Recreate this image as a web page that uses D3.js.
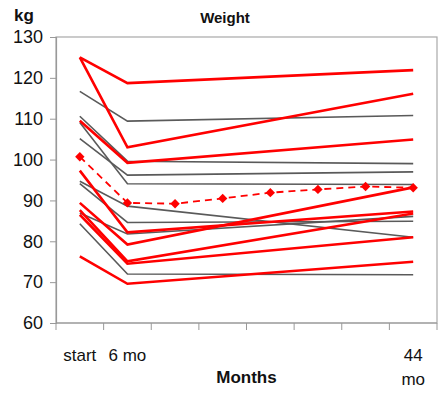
<!DOCTYPE html>
<html><head><meta charset="utf-8">
<script src="https://cdn.jsdelivr.net/npm/d3@7"></script>
<style>
html,body{margin:0;padding:0;background:#fff;}
text{font-family:"Liberation Sans",Arial,sans-serif;fill:#111;}
</style></head>
<body><svg id="c" width="447" height="396"></svg>
<script>
const categories = ["start","6 mo","","","","","","44 mo"];
const individualIdx = [0,1,7];
const redSeries = [
  [125.0,118.7,121.9],
  [125.0,103.0,116.1],
  [109.5, 99.2,104.9],
  [ 97.3, 82.2, 87.3],
  [ 89.4, 79.2, 93.2],
  [ 87.6, 75.1, 86.8],
  [ 86.5, 74.5, 81.0],
  [ 76.3, 69.6, 75.0]
];
const graySeries = [
  [116.7,109.4,110.8],
  [110.6, 99.6, 99.0],
  [109.1, 94.1, 93.9],
  [105.1, 96.2, 97.0],
  [ 94.7, 88.6, 81.0],
  [ 94.1, 84.6, 84.9],
  [ 86.9, 81.8, 86.1],
  [ 84.3, 72.0, 71.8]
];
const meanSeries = [100.7, 89.4, 89.2, 90.5, 91.9, 92.7, 93.4, 93.1];
const yTicks = [60,70,80,90,100,110,120,130];

const svg = d3.select("#c");
const L=56, R=437, T=37, B=323;
const x = d3.scalePoint().domain(d3.range(categories.length)).range([L,R]).padding(0.5);
const step = x.step();
const y = d3.scaleLinear().domain([60,130]).range([B,T]);

// plot frame
svg.append("rect").attr("x",L).attr("y",T).attr("width",R-L).attr("height",B-T)
  .attr("fill","#fff").attr("stroke","#a8a8a8").attr("stroke-width",1.2);

// y axis
const ya = svg.append("g").attr("transform",`translate(${L},0)`)
  .call(d3.axisLeft(y).tickValues(yTicks).tickSize(6).tickPadding(7));
ya.select(".domain").attr("stroke","#999").attr("stroke-width",1.2);
ya.selectAll(".tick line").attr("stroke","#999");
ya.selectAll(".tick text").attr("font-size",18).attr("fill","#111")
  .attr("font-family","Liberation Sans, Arial, sans-serif");

// x axis ticks at category boundaries
const xa = svg.append("g");
xa.append("line").attr("x1",L).attr("x2",R).attr("y1",B).attr("y2",B).attr("stroke","#999").attr("stroke-width",1.2);
xa.selectAll("line.t").data(d3.range(categories.length+1)).join("line").attr("class","t")
  .attr("x1",i=>x(0)-step/2+i*step).attr("x2",i=>x(0)-step/2+i*step)
  .attr("y1",B).attr("y2",B+7).attr("stroke","#999");
categories.forEach((c,i)=>{
  if(!c) return;
  const parts = (i===categories.length-1) ? c.split(" ") : [c];
  const t = svg.append("text").attr("x",x(i)).attr("y",361).attr("text-anchor","middle").attr("font-size",17);
  parts.forEach((p,j)=>t.append("tspan").attr("x",x(i)).attr("dy",j?24:0).text(p));
});

const line = d3.line().x(d=>x(d[0])).y(d=>y(d[1]));
const pts = s => s.map((v,k)=>[individualIdx[k],v]);

svg.append("g").selectAll("path").data(graySeries).join("path")
  .attr("d",s=>line(pts(s))).attr("fill","none").attr("stroke","#5a5a5a").attr("stroke-width",1.6);
svg.append("g").selectAll("path").data(redSeries).join("path")
  .attr("d",s=>line(pts(s))).attr("fill","none").attr("stroke","#ff0000").attr("stroke-width",2.6);

const meanPts = meanSeries.map((v,i)=>[i,v]);
svg.append("path").attr("d",line(meanPts)).attr("fill","none").attr("stroke","#ff0000")
  .attr("stroke-width",1.8).attr("stroke-dasharray","7,5");
svg.append("g").selectAll("path").data(meanPts).join("path")
  .attr("transform",d=>`translate(${x(d[0])},${y(d[1])}) rotate(45)`)
  .attr("d",d3.symbol(d3.symbolSquare,44)).attr("fill","#ff0000");

// titles
svg.append("text").attr("x",225).attr("y",23).attr("text-anchor","middle").attr("font-size",15).attr("font-weight","bold").text("Weight");
svg.append("text").attr("x",24).attr("y",21).attr("text-anchor","middle").attr("font-size",17).attr("font-weight","bold").text("kg");
svg.append("text").attr("x",(L+R)/2).attr("y",383).attr("text-anchor","middle").attr("font-size",17).attr("font-weight","bold").text("Months");
</script></body></html>
